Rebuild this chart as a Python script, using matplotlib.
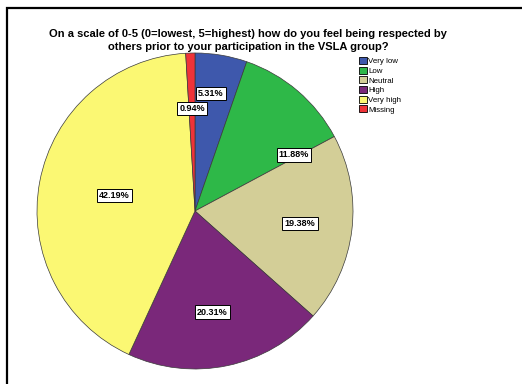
import numpy as np
import matplotlib.pyplot as plt
from matplotlib.patches import Rectangle, Patch

plt.rcParams['font.family'] = ['Liberation Sans', 'DejaVu Sans']

categories = ['Very low', 'Low', 'Neutral', 'High', 'Very high', 'Missing']
percents = [5.31, 11.88, 19.38, 20.31, 42.19, 0.94]
colors = ['#3E58AC', '#2EB848', '#D3CE97', '#7A287A', '#FBF873', '#EF3338']

# label placement (fraction of radius, extra angle in degrees clockwise)
label_dist = [0.75, 0.72, 0.67, 0.65, 0.52, 0.65]
label_shift = [-2, 20, 0, 2, 0, 0]

fig = plt.figure(figsize=(5.22, 3.84), dpi=100)
W, H = 522, 384

# outer frame
fig.add_artist(Rectangle((7 / W, -0.05), 1.1, (H - 8) / H + 0.05,
                         transform=fig.transFigure, fill=False,
                         edgecolor='black', linewidth=1.6))

ax = fig.add_axes([37 / W, 15 / H, 316 / W, 316 / H])
wedges, _ = ax.pie(percents, colors=colors, startangle=90, counterclock=False,
                   wedgeprops=dict(edgecolor='#3a3a3a', linewidth=0.5))
ax.set_xlim(-1, 1)
ax.set_ylim(-1, 1)
ax.set_aspect('equal')

start = 0.0
for p, d, s in zip(percents, label_dist, label_shift):
    mid = (start + p / 2) / 100 * 360 + s
    start += p
    th = np.deg2rad(90 - mid)
    ax.text(d * np.cos(th), d * np.sin(th), '{:.2f}%'.format(p),
            ha='center', va='center', fontsize=6.5, fontweight='bold',
            bbox=dict(boxstyle='square,pad=0.25', facecolor='white',
                      edgecolor='black', linewidth=0.7))

fig.text(248 / W, 1 - 40.5 / H,
         'On a scale of 0-5 (0=lowest, 5=highest) how do you feel being respected by\n'
         'others prior to your participation in the VSLA group?',
         ha='center', va='center', fontsize=8, fontweight='bold', linespacing=1.3)

handles = [Patch(facecolor=c, edgecolor='black', linewidth=0.6) for c in colors]
fig.legend(handles, categories, loc='upper left', bbox_to_anchor=(359 / W, 1 - 57 / H),
           frameon=False, fontsize=5.7, handlelength=1.0, handleheight=1.0,
           handletextpad=0.2, labelspacing=0.18, borderaxespad=0, borderpad=0)

fig.savefig('out.png', dpi=100)
